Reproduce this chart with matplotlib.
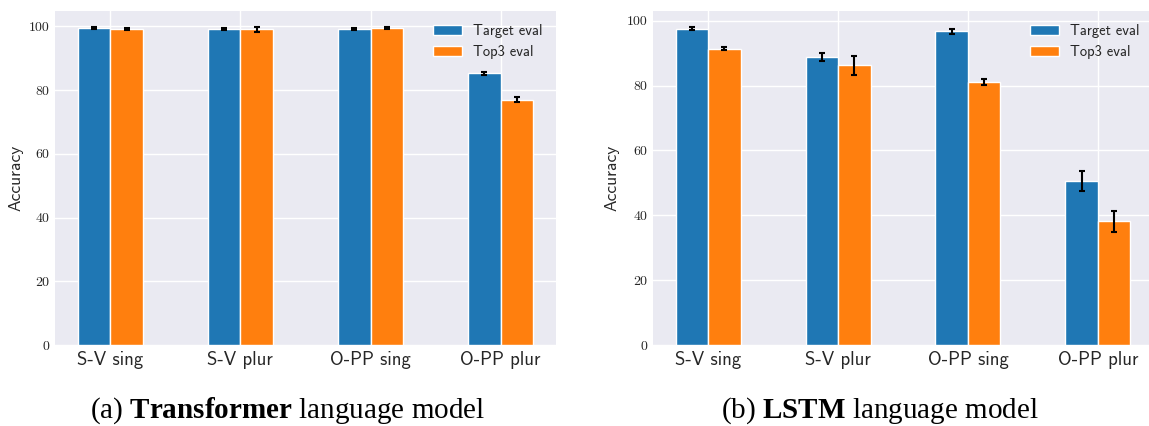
import numpy as np
import matplotlib
matplotlib.use('Agg')
import matplotlib.pyplot as plt

# categories and accuracy values
categories = ['S-V sing', 'S-V plur', 'O-PP sing', 'O-PP plur']
series_names = ['Target eval', 'Top3 eval']

transformer_target = [99.5, 99.1, 99.1, 85.2]
transformer_target_err = [0.3, 0.3, 0.3, 0.6]
transformer_top3 = [99.1, 99.0, 99.4, 77.0]
transformer_top3_err = [0.4, 0.8, 0.3, 0.8]

lstm_target = [97.6, 88.9, 96.7, 50.6]
lstm_target_err = [0.5, 1.3, 0.7, 3.1]
lstm_top3 = [91.4, 86.2, 81.1, 38.1]
lstm_top3_err = [0.5, 2.9, 0.8, 3.1]

captions = ['Transformer', 'LSTM']

# captions: serif text with a bold model name
plt.rcParams['mathtext.fontset'] = 'custom'
plt.rcParams['mathtext.rm'] = 'Liberation Serif'
plt.rcParams['mathtext.bf'] = 'Liberation Serif:bold'

BG = '#EAEAF2'
COLORS = ['#1f77b4', '#ff7f0e']
SANS = 'cmss10'
SERIF = 'cmr10'


def draw_panel(ax, target, target_err, top3, top3_err):
    x = np.arange(len(categories))
    w = 0.25
    ax.set_facecolor(BG)
    ax.set_axisbelow(True)
    ax.grid(True, color='white', linewidth=1.0)
    for s in ax.spines.values():
        s.set_visible(False)

    err_kw = dict(ecolor='black', elinewidth=1.5, capsize=2, capthick=1.5)
    ax.bar(x - w / 2, target, w, yerr=target_err, color=COLORS[0],
           edgecolor='white', linewidth=1.0, label=series_names[0], error_kw=err_kw)
    ax.bar(x + w / 2, top3, w, yerr=top3_err, color=COLORS[1],
           edgecolor='white', linewidth=1.0, label=series_names[1], error_kw=err_kw)

    ax.set_xticks(x)
    ax.set_xticklabels(categories, fontfamily=SANS, fontsize=13.5, color='#262626')
    ax.set_yticks([0, 20, 40, 60, 80, 100])
    ax.set_yticklabels(['0', '20', '40', '60', '80', '100'],
                       fontfamily=SERIF, fontsize=10, color='#262626')
    ax.tick_params(length=0, pad=4)
    ax.set_ylabel('Accuracy', fontfamily=SANS, fontsize=12.5, color='#262626')
    leg = ax.legend(loc='upper right', frameon=False,
                    prop={'family': SANS, 'size': 10.5})
    for t in leg.get_texts():
        t.set_color('#262626')


fig = plt.figure(figsize=(11.49, 4.26), dpi=100)

ax1 = fig.add_axes([55 / 1149, 81 / 426, 501 / 1149, 334 / 426])
draw_panel(ax1, transformer_target, transformer_target_err,
           transformer_top3, transformer_top3_err)
ax1.yaxis.set_label_coords(-0.062, 0.5)

ax2 = fig.add_axes([653 / 1149, 81 / 426, 500 / 1149, 334 / 426])
draw_panel(ax2, lstm_target, lstm_target_err, lstm_top3, lstm_top3_err)
ax2.yaxis.set_label_coords(-0.066, 0.5)

# sub-captions
cap_y = 1 - 418 / 426
for cx, letter, name in [(288, 'a', captions[0]), (880, 'b', captions[1])]:
    fig.text(cx / 1149, cap_y,
             '(%s) $\\mathbf{%s}$ language model' % (letter, name),
             ha='center', va='baseline', fontsize=21, family='Liberation Serif')

fig.savefig('out.png', dpi=100)
